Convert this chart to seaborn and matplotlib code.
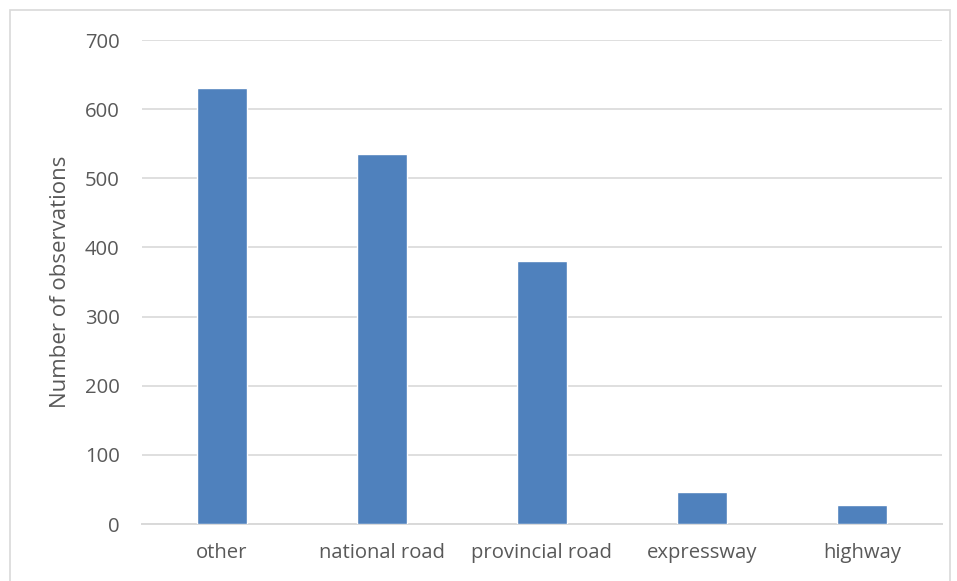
import matplotlib
matplotlib.use("Agg")
import matplotlib.pyplot as plt
import seaborn as sns
import pandas as pd
from matplotlib.patches import Rectangle

categories = ["other", "national road", "provincial road", "expressway", "highway"]
counts = [630, 535, 381, 47, 28]
y_ticks = [0, 100, 200, 300, 400, 500, 600, 700]

df = pd.DataFrame({"road": categories, "n": counts})

sns.set_theme(style="white")
plt.rcParams["font.family"] = ["Open Sans", "DejaVu Sans"]

fig = plt.figure(figsize=(9.57, 5.81), dpi=100)
ax = fig.add_axes([0.1484, 0.0981, 0.8359, 0.8329])

sns.barplot(data=df, x="road", y="n", color="#4f81bd", width=0.31,
            saturation=1, ax=ax, zorder=3)

ax.set_ylim(0, 700)
ax.set_xlim(-0.5, 4.5)
ax.set_yticks(y_ticks)
ax.yaxis.grid(True, color="#d9d9d9", linewidth=1.2, zorder=0)
ax.set_axisbelow(True)
for s in ["top", "right", "left"]:
    ax.spines[s].set_visible(False)
ax.spines["bottom"].set_color("#d9d9d9")
ax.spines["bottom"].set_linewidth(1.4)
ax.tick_params(axis="both", length=0, labelsize=14.6, labelcolor="#595959")
ax.tick_params(axis="y", pad=16)
ax.tick_params(axis="x", pad=14)
ax.set_xlabel("")
ax.set_ylabel("Number of observations", fontsize=16, color="#595959", labelpad=10)

# outer chart frame
fig.patches.append(Rectangle((10 / 957, -0.05), 940 / 957, 1.05 - 10 / 581,
                             transform=fig.transFigure, fill=False,
                             edgecolor="#d9d9d9", linewidth=1.2))

fig.savefig("out.png", dpi=100)
